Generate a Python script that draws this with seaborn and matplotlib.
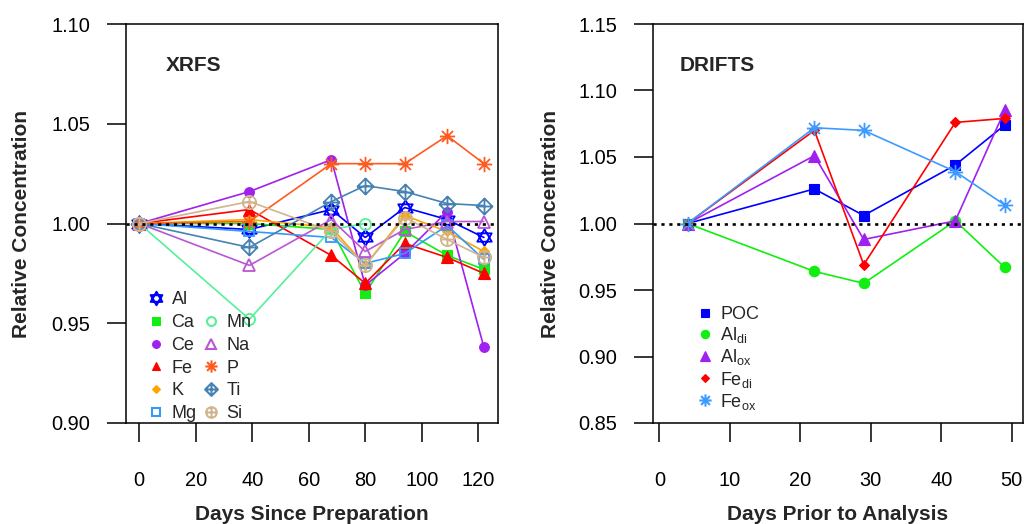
import numpy as np
import pandas as pd
import matplotlib
matplotlib.use("Agg")
import matplotlib.pyplot as plt
from matplotlib.path import Path
from matplotlib.lines import Line2D
import seaborn as sns

# ---------------- data ----------------
xrfs_days = [0, 39, 68, 80, 94, 109, 122]
xrfs_elements = ["Al", "Ca", "Ce", "Fe", "K", "Mg", "Mn", "Na", "P", "Ti", "Si"]
al = [1.000, 0.997, 1.007, 0.993, 1.008, 1.002, 0.993]
ca = [1.000, 1.000, 0.997, 0.965, 0.996, 0.984, 0.977]
ce = [1.000, 1.016, 1.032, 0.969, 0.985, 1.006, 0.938]
fe = [1.000, 1.007, 0.984, 0.970, 0.990, 0.983, 0.975]
k = [1.000, 1.002, 0.998, 0.979, 1.004, 0.996, 0.986]
mg = [1.000, 0.996, 0.993, 0.980, 0.985, 0.999, 0.982]
mn = [1.000, 0.952, 0.997, 1.000, None, None, None]
na = [1.000, 0.979, 1.002, 0.986, 0.997, 1.001, 1.001]
p = [1.000, 1.001, 1.030, 1.030, 1.030, 1.044, 1.030]
ti = [1.000, 0.988, 1.011, 1.019, 1.016, 1.010, 1.009]
si = [1.000, 1.011, 0.996, 0.979, 1.003, 0.992, 0.983]

drifts_days = [4, 22, 29, 42, 49]
drifts_labels = ["POC", r"Al$_{\mathrm{di}}$", r"Al$_{\mathrm{ox}}$",
                 r"Fe$_{\mathrm{di}}$", r"Fe$_{\mathrm{ox}}$"]
poc = [1.000, 1.026, 1.006, 1.044, 1.074]
al_di = [1.000, 0.964, 0.955, 1.002, 0.967]
al_ox = [1.000, 1.051, 0.988, 1.002, 1.085]
fe_di = [1.000, 1.070, 0.969, 1.076, 1.079]
fe_ox = [1.000, 1.072, 1.070, 1.039, 1.014]

xrfs_xticks = [0, 20, 40, 60, 80, 100, 120]
xrfs_yticks = [0.90, 0.95, 1.00, 1.05, 1.10]
drifts_xticks = [0, 10, 20, 30, 40, 50]
drifts_yticks = [0.85, 0.90, 0.95, 1.00, 1.05, 1.10, 1.15]

# ---------------- marker shapes ----------------
def compound(*parts):
    return Path.make_compound_path(*parts)

tri_up = Path([(0, 1), (-0.866, -0.5), (0.866, -0.5), (0, 1)], closed=True)
tri_dn = Path([(0, -1), (-0.866, 0.5), (0.866, 0.5), (0, -1)], closed=True)
hexagram = compound(tri_up, tri_dn)

plus = Path([(-1, 0), (1, 0), (0, -1), (0, 1)],
            [Path.MOVETO, Path.LINETO, Path.MOVETO, Path.LINETO])
cross = Path([(-0.72, -0.72), (0.72, 0.72), (-0.72, 0.72), (0.72, -0.72)],
             [Path.MOVETO, Path.LINETO, Path.MOVETO, Path.LINETO])
asterisk = compound(plus, cross)
diamond = Path([(0, 1), (1, 0), (0, -1), (-1, 0), (0, 1)], closed=True)
diamond_plus = compound(diamond, plus)
circle_plus = compound(Path.unit_circle(), plus)

# style per series: colour, marker, size, filled
xrfs_style = {
    "Al": ("#0000FF", hexagram, 12, False),
    "Ca": ("#11EE11", "s", 7, True),
    "Ce": ("#A020F0", "o", 7, True),
    "Fe": ("#FF0000", "^", 8, True),
    "K": ("#FFA500", "D", 5, True),
    "Mg": ("#3399FF", "s", 7.5, False),
    "Mn": ("#55F09A", "o", 8, False),
    "Na": ("#BA55D3", "^", 9, False),
    "P": ("#FF5A1F", asterisk, 11, False),
    "Ti": ("#4682B4", diamond_plus, 11.5, False),
    "Si": ("#D2B48C", circle_plus, 9.5, False),
}
xrfs_values = dict(zip(xrfs_elements, [al, ca, ce, fe, k, mg, mn, na, p, ti, si]))

drifts_style = [
    ("#0000FF", "s", 7, True),
    ("#11EE11", "o", 7.5, True),
    ("#A020F0", "^", 8.5, True),
    ("#FF0000", "D", 5, True),
    ("#3D9BFF", asterisk, 11, False),
]
drifts_values = [poc, al_di, al_ox, fe_di, fe_ox]

# ---------------- theme ----------------
sns.set_theme(style="ticks")
plt.rcParams["font.family"] = ["Liberation Sans", "DejaVu Sans"]
plt.rcParams["mathtext.fontset"] = "custom"
plt.rcParams["mathtext.rm"] = "Liberation Sans"
plt.rcParams["mathtext.it"] = "Liberation Sans"
plt.rcParams["axes.linewidth"] = 1.1
plt.rcParams["axes.edgecolor"] = "black"

fig = plt.figure(figsize=(10.26, 5.24), dpi=100)
W, H = 1026, 524
ax1 = fig.add_axes([126 / W, 1 - 423 / H, (498 - 126) / W, (423 - 24) / H])
ax2 = fig.add_axes([653 / W, 1 - 423 / H, (1023 - 653) / W, (423 - 24) / H])


def draw_series(ax, x, y, color, marker, size, filled, z):
    df = pd.DataFrame({"x": x, "y": y}).dropna()
    sns.lineplot(data=df, x="x", y="y", ax=ax, color=color, lw=1.2,
                 marker=marker, markersize=size,
                 markerfacecolor=color if filled else "none",
                 markeredgecolor=color, markeredgewidth=1.3 if not filled else 0.8,
                 sort=False, estimator=None, zorder=z)


def legend_handle(color, marker, size, filled):
    return Line2D([], [], linestyle="none", marker=marker, markersize=size,
                  markerfacecolor=color if filled else "none",
                  markeredgecolor=color, markeredgewidth=1.5 if not filled else 0.8)


def style_axes(ax, xticks, yticks, xlim, ylim, title, title_x):
    ax.set_xlim(*xlim)
    ax.set_ylim(*ylim)
    ax.set_xticks(xticks)
    ax.set_yticks(yticks)
    ax.set_yticklabels([f"{v:.2f}" for v in yticks])
    ax.tick_params(axis="both", direction="out", length=13.7, width=1.1,
                   labelsize=14.4, colors="black")
    ax.tick_params(axis="x", pad=21)
    ax.tick_params(axis="y", pad=12)
    for s in ax.spines.values():
        s.set_visible(True)
        s.set_color("black")
        s.set_linewidth(1.1)
    ax.set_xlabel("")
    ax.set_ylabel("")
    ax.axhline(1.0, color="black", ls=(0, (1.2, 1.8)), lw=1.9, zorder=5)
    ax.text(title_x, 0.897, title, transform=ax.transAxes, fontsize=15,
            fontweight="bold", va="center", ha="left")


# ---------------- left panel: XRFS ----------------
for i, name in enumerate(xrfs_elements):
    c, m, s, f = xrfs_style[name]
    draw_series(ax1, xrfs_days, xrfs_values[name], c, m, s, f, 2 + i * 0.01)

style_axes(ax1, xrfs_xticks, xrfs_yticks, (-4.7, 127.0), (0.90, 1.10),
           "XRFS", 0.108)

handles, labels = [], []
for name in xrfs_elements[:6]:
    c, m, s, f = xrfs_style[name]
    handles.append(legend_handle(c, m, s * 0.8, f))
    labels.append(name)
handles.append(Line2D([], [], linestyle="none"))
labels.append("")
for name in xrfs_elements[6:]:
    c, m, s, f = xrfs_style[name]
    handles.append(legend_handle(c, m, s * 0.8, f))
    labels.append(name)
ax1.legend(handles, labels, ncol=2, loc="upper left",
           bbox_to_anchor=(0.057, 0.33), frameon=False, fontsize=13,
           handlelength=1.0, handletextpad=0.35, labelspacing=0.32,
           columnspacing=0.3, borderpad=0, borderaxespad=0)

# ---------------- right panel: DRIFTS ----------------
for i, (vals, (c, m, s, f)) in enumerate(zip(drifts_values, drifts_style)):
    draw_series(ax2, drifts_days, vals, c, m, s, f, 2 + i * 0.01)

style_axes(ax2, drifts_xticks, drifts_yticks, (-0.9, 51.6), (0.85, 1.15),
           "DRIFTS", 0.073)

handles = [legend_handle(c, m, s * 0.8, f) for (c, m, s, f) in drifts_style]
ax2.legend(handles, drifts_labels, loc="upper left",
           bbox_to_anchor=(0.116, 0.293), frameon=False, fontsize=13,
           handlelength=1.0, handletextpad=0.35, labelspacing=0.12,
           borderpad=0, borderaxespad=0)

# ---------------- axis titles ----------------
fig.text(22 / W, 1 - 224 / H, "Relative Concentration", rotation=90,
         ha="center", va="center", fontsize=15, fontweight="bold")
fig.text(550 / W, 1 - 224 / H, "Relative Concentration", rotation=90,
         ha="center", va="center", fontsize=15, fontweight="bold")
fig.text(312 / W, 1 - 514 / H, "Days Since Preparation",
         ha="center", va="center", fontsize=15, fontweight="bold")
fig.text(838 / W, 1 - 514 / H, "Days Prior to Analysis",
         ha="center", va="center", fontsize=15, fontweight="bold")

fig.savefig("out.png", dpi=100, facecolor="white")
